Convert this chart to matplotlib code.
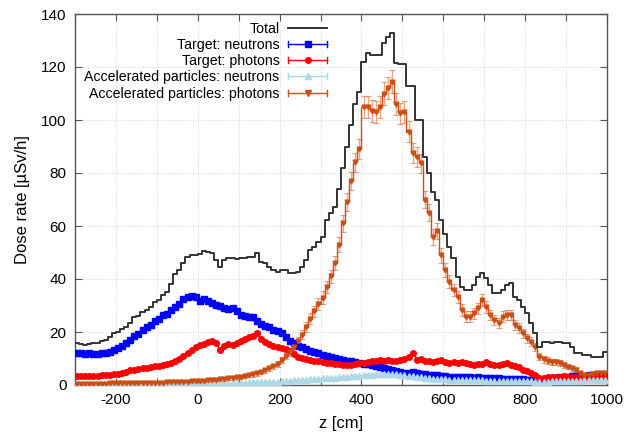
import numpy as np
import matplotlib
matplotlib.use("Agg")
import matplotlib.pyplot as plt
from matplotlib.lines import Line2D
from matplotlib.legend_handler import HandlerBase

plt.rcParams['font.family'] = ['Liberation Sans', 'DejaVu Sans']
plt.rcParams['axes.unicode_minus'] = False

# bin edges every 10 cm from -300 to 1000
z_start, z_stop, z_step = -300, 1000, 10

total = [16, 15.5, 15.1, 15.5, 16, 15.8, 16.5, 17, 18, 19.5,
         20, 21, 22, 23.5, 25.5, 26, 27.5, 28.3, 29.5, 31.4,
         32, 34, 35.2, 38, 42, 43.5, 45.9, 48.4, 49, 49,
         49.5, 50.7, 50.3, 49.7, 47.2, 44.7, 47.2, 47.8, 47.8, 47.5,
         47.8, 47.8, 48.4, 48.4, 49.7, 46.5, 45.9, 44.7, 43.5, 42.8,
         43.4, 43.4, 42.1, 42.1, 42.8, 44.7, 47.2, 50.9, 52.2, 54.1,
         56, 62.3, 64.8, 67, 74, 82, 90, 98, 106, 110.7,
         122, 125.2, 124.6, 124.5, 124.5, 129, 131.4, 132.7, 121.4, 121,
         121, 113, 113, 100, 100, 86, 80, 73, 70, 62.3,
         57, 52.2, 47.8, 40.9, 37.1, 36, 36, 37.7, 40.9, 42.1,
         40.3, 37.7, 34.6, 34.6, 36, 37.7, 38.4, 33.3, 32, 29.5,
         27, 23.3, 19.5, 14.5, 16.4, 16.4, 15.7, 16.4, 16.4, 15.7,
         15.7, 14.5, 12, 12, 11.3, 11.3, 10.7, 10.7, 10.7, 12.6]

target_neutrons = [12.0, 11.9, 11.8, 11.9, 11.8, 11.7, 11.9, 12.1, 12.6, 13.2,
                   14.0, 14.9, 15.8, 17.0, 18.5, 19.3, 20.6, 21.8, 22.5, 24.2,
                   24.8, 26.3, 26.7, 28.4, 29.5, 30.6, 32.4, 33.3, 33.5, 33.1,
                   31.6, 32.4, 31.8, 31.0, 30.3, 29.8, 29.0, 28.6, 28.9, 27.8,
                   26.4, 26.2, 25.7, 25.5, 24.3, 23.0, 22.4, 21.9, 20.8, 20.2,
                   19.5, 18.0, 16.6, 15.8, 14.8, 14.2, 13.6, 13.0, 12.5, 12.0,
                   11.5, 11.0, 10.7, 10.3, 9.9, 9.5, 9.2, 8.9, 8.6, 8.3,
                   8.1, 7.8, 7.5, 7.1, 6.7, 6.3, 5.9, 5.6, 5.1, 4.8,
                   4.7, 4.5, 4.9, 4.6, 4.3, 4.0, 3.9, 3.7, 3.7, 3.5,
                   3.4, 3.2, 3.2, 3.1, 3.0, 3.0, 2.9, 2.8, 2.9, 2.8,
                   2.7, 2.6, 2.5, 2.5, 2.4, 2.4, 2.3, 2.3, 2.2, 2.1,
                   2.0, 1.9, 1.8, 2.0, 2.2, 2.4, 2.6, 2.8, 3.0, 3.1,
                   3.2, 3.3, 3.4, 3.5, 3.5, 3.6, 3.6, 3.7, 3.8, 3.9]

target_photons = [3.5, 3.4, 3.5, 3.5, 3.4, 3.5, 3.6, 3.7, 3.9, 4.1,
                  4.3, 4.6, 5.0, 5.5, 5.8, 6.0, 6.3, 6.6, 6.7, 7.1,
                  7.0, 7.4, 7.8, 8.3, 8.9, 9.8, 10.8, 12.0, 13.3, 14.2,
                  15.1, 15.6, 16.3, 16.6, 15.8, 13.3, 14.9, 15.4, 15.2, 15.7,
                  16.6, 17.4, 18.0, 18.4, 19.7, 17.5, 16.4, 15.4, 14.6, 14.2,
                  13.9, 13.6, 12.9, 11.8, 10.4, 10.1, 9.9, 9.5, 9.1, 8.9,
                  8.6, 8.3, 8.2, 8.0, 7.8, 7.6, 7.5, 7.7, 8.0, 8.3,
                  8.2, 8.6, 8.9, 9.0, 9.3, 9.1, 9.3, 9.0, 9.2, 9.4,
                  9.8, 10.7, 12.1, 9.4, 9.7, 9.2, 8.9, 8.8, 9.2, 9.5,
                  8.7, 8.4, 8.6, 8.2, 8.8, 8.3, 7.9, 7.6, 7.8, 7.9,
                  8.6, 8.0, 7.6, 7.5, 7.9, 8.2, 7.6, 7.2, 6.7, 5.8,
                  5.4, 4.7, 3.9, 2.6, 2.8, 3.0, 3.1, 3.2, 3.1, 3.3,
                  3.1, 3.0, 2.9, 2.8, 2.9, 2.8, 2.9, 3.0, 2.9, 3.0]

acc_neutrons = [0.1, 0.1, 0.1, 0.1, 0.1, 0.1, 0.1, 0.1, 0.1, 0.1,
                0.1, 0.1, 0.1, 0.1, 0.1, 0.1, 0.2, 0.2, 0.2, 0.2,
                0.2, 0.2, 0.2, 0.3, 0.3, 0.3, 0.3, 0.4, 0.4, 0.4,
                0.4, 0.5, 0.5, 0.5, 0.6, 0.6, 0.7, 0.7, 0.8, 0.8,
                0.9, 0.9, 1.0, 1.0, 1.1, 1.1, 1.2, 1.2, 1.3, 1.3,
                1.4, 1.5, 1.6, 1.7, 1.8, 1.9, 2.0, 2.1, 2.3, 2.4,
                2.5, 2.6, 2.7, 2.8, 2.9, 3.0, 3.1, 3.3, 3.4, 3.5,
                3.6, 3.8, 3.9, 4.0, 4.1, 4.2, 4.2, 4.1, 4.0, 3.9,
                3.7, 3.5, 3.3, 3.1, 2.9, 2.7, 2.6, 2.4, 2.3, 2.2,
                2.1, 2.0, 2.0, 1.9, 1.9, 1.8, 1.8, 1.7, 1.7, 1.7,
                1.6, 1.6, 1.6, 1.5, 1.5, 1.5, 1.5, 1.4, 1.4, 1.4,
                1.4, 1.4, 1.3, 1.3, 1.3, 1.3, 1.4, 1.4, 1.4, 1.5,
                1.5, 1.5, 1.6, 1.6, 1.7, 1.7, 1.7, 1.8, 1.8, 1.9]

acc_photons = [0.4, 0.4, 0.4, 0.5, 0.5, 0.5, 0.5, 0.5, 0.6, 0.6,
               0.6, 0.6, 0.7, 0.7, 0.7, 0.7, 0.8, 0.8, 0.8, 0.9,
               0.9, 0.9, 1.0, 1.0, 1.1, 1.1, 1.2, 1.3, 1.4, 1.5,
               1.6, 1.6, 1.8, 1.9, 2.0, 2.1, 2.3, 2.5, 2.7, 2.9,
               3.1, 3.3, 3.6, 4.0, 4.4, 4.9, 5.6, 6.3, 7.0, 8.0,
               9.5, 11.0, 12.5, 14.5, 16.5, 19.0, 22.0, 25.0, 27.8, 30.5,
               33.0, 37.0, 41.0, 46.0, 53.0, 61.0, 69.0, 77.0, 84.0, 89.0,
               105.0, 105.0, 103.5, 103.0, 105.0, 110.0, 112.0, 114.5, 106.0, 102.5,
               103.0, 95.6, 87.4, 86.0, 83.6, 70.0, 65.0, 56.0, 58.0, 49.0,
               43.4, 39.0, 35.8, 33.3, 28.3, 25.8, 25.8, 27.0, 28.9, 32.0,
               29.5, 26.4, 24.5, 23.3, 25.8, 26.4, 26.4, 22.6, 21.4, 19.5,
               17.6, 16.4, 14.5, 10.7, 9.7, 9.2, 8.8, 8.8, 8.4, 7.5,
               6.9, 6.3, 5.7, 4.4, 3.8, 3.8, 4.1, 4.4, 4.4, 4.4]

labels = ["Total", "Target: neutrons", "Target: photons",
          "Accelerated particles: neutrons", "Accelerated particles: photons"]


class ErrHandler(HandlerBase):
    """gnuplot-like legend sample: horizontal line, end caps, centre marker."""
    def create_artists(self, legend, orig_handle, xdescent, ydescent,
                       width, height, fontsize, trans):
        col = orig_handle.get_color()
        mk = orig_handle.get_marker()
        x0, x1 = -xdescent, width - xdescent
        y = height / 2 - ydescent
        c = height * 0.3
        arts = [
            Line2D([x0, x1], [y, y], color=col, lw=1.0),
            Line2D([x0, x0], [y - c, y + c], color=col, lw=1.0),
            Line2D([x1, x1], [y - c, y + c], color=col, lw=1.0),
            Line2D([(x0 + x1) / 2], [y], marker=mk, color=col, ms=4.0, lw=0),
        ]
        for a in arts:
            a.set_transform(trans)
        return arts


edges = np.arange(z_start, z_stop + z_step, z_step)
centers = 0.5 * (edges[:-1] + edges[1:])

fig = plt.figure(figsize=(6.35, 4.34), dpi=100)
ax = fig.add_axes([75/635, 1 - 385/434, (607-75)/635, (385-14)/434])

h_total, = ax.step(edges, list(total) + [total[-1]], where='post',
                   color='#333333', lw=1.4, zorder=5, label=labels[0])

series = [
    (target_neutrons, '#0000ff', 's', 0.15, 4.0, labels[1]),
    (target_photons, '#ff0000', 'o', 0.15, 4.0, labels[2]),
    (acc_neutrons, '#add8e6', '^', 0.12, 3.8, labels[3]),
    (acc_photons, '#cc4e14', 'v', 0.40, 3.4, labels[4]),
]
handles = [h_total]
hmap = {}
for vals, col, mk, ef, ms, lab in series:
    v = np.array(vals)
    err = ef * np.sqrt(v)
    ax.step(edges, list(vals) + [vals[-1]], where='post', color=col, lw=1.0, zorder=3)
    ax.errorbar(centers, v, yerr=err, fmt=mk, color=col, ms=ms,
                ecolor=matplotlib.colors.to_rgba(col, 0.5), elinewidth=1.0,
                capsize=2.5, capthick=0.8, lw=1.0, zorder=4)
    proxy = Line2D([], [], color=col, marker=mk, label=lab)
    handles.append(proxy)
    hmap[proxy] = ErrHandler()

ax.set_xlim(-300, 1000)
ax.set_ylim(0, 140)
ax.set_xticks(np.arange(-200, 1001, 200))
ax.set_xticks(np.arange(-300, 1001, 100), minor=True)
ax.set_yticks(np.arange(0, 141, 20))
ax.tick_params(which='both', direction='in', top=True, right=True, length=5,
               width=0.8, color='#555555', labelsize=11, pad=6)
ax.grid(which='both', axis='x', color='#c8c8c8', linestyle=(0, (1, 2)), lw=0.6)
ax.grid(which='major', axis='y', color='#c8c8c8', linestyle=(0, (1, 2)), lw=0.6)
ax.set_axisbelow(True)
for s in ax.spines.values():
    s.set_color('#555555')
    s.set_linewidth(1.0)

ax.set_xlabel('z [cm]', fontsize=12, labelpad=6)
ax.set_ylabel('Dose rate [µSv/h]', fontsize=12, labelpad=8)

leg = ax.legend(handles=handles, labels=labels, loc='upper right',
                bbox_to_anchor=(0.485, 0.995), frameon=False, markerfirst=False,
                fontsize=10.2, handlelength=2.75, handletextpad=0.63,
                labelspacing=0.16, borderaxespad=0, handler_map=hmap)

fig.savefig('out.png', dpi=100)
